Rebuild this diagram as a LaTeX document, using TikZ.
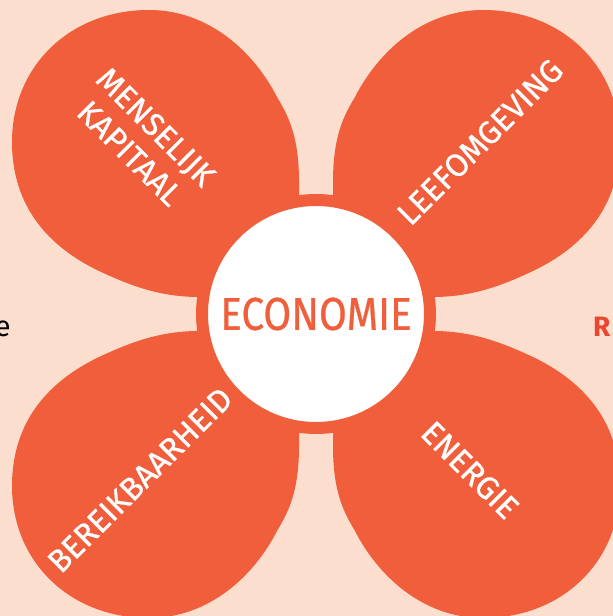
\documentclass[tikz,border=0pt]{standalone}
\usepackage{fontspec}
\usepackage{xcolor}
\usetikzlibrary{positioning}
\newfontfamily\petalfont[FakeBold=0.8]{Fira Sans}
\newfontfamily\ecofont[FakeStretch=0.88, FakeBold=0.6]{Fira Sans}
\newfontfamily\sidefont{Fira Sans}
\definecolor{peach}{RGB}{252,222,207}
\definecolor{petalorange}{RGB}{241,94,59}
\definecolor{sidered}{RGB}{233,72,48}

\begin{document}
\begin{tikzpicture}[x=1pt, y=1pt,
    petal/.style={fill=petalorange, draw=none},
    petaltext/.style={
        text=white,
        font=\petalfont\fontsize{32}{37}\selectfont,
        align=center,
        inner sep=0pt
    },
    hub/.style={
        circle,
        fill=white,
        draw=petalorange,
        line width=12pt,
        minimum size=228pt,
        inner sep=0pt,
        text=petalorange,
        font=\ecofont\fontsize{46}{46}\selectfont
    }]

    % Background
    \fill[peach] (0,0) rectangle (613,616);
    \useasboundingbox (0,0) rectangle (613,616);

    % Centre of the flower
    \coordinate (centre) at (316,302);

    % Four petals
    \foreach \sx/\sy in {1/1, -1/1, 1/-1, -1/-1} {
        \begin{scope}[shift={(centre)}, xscale=\sx, yscale=\sy, shift={(-17,17)}]
            \fill[petal] (0,0) -- (0,115)
                .. controls (0,160) and (-10,180) .. (-22,200)
                .. controls (-45,245) and (-90,287) .. (-150,287)
                .. controls (-230,287) and (-287,230) .. (-287,155)
                .. controls (-287,90) and (-250,50) .. (-200,26)
                .. controls (-170,12) and (-140,0) .. (-100,0) -- cycle;
        \end{scope}
    }

    % Central circle
    \node[hub] (economie) at (centre) {ECONOMIE};

    % Petal labels
    \node[petaltext, rotate=-45] (kapitaal) at (143,476) {MENSELIJK\\KAPITAAL};
    \node[petaltext, rotate=45] (leefomgeving) at (480,474) {LEEFOMGEVING};
    \node[petaltext, rotate=45] (bereikbaarheid) at (140,136) {BEREIKBAARHEID};
    \node[petaltext, rotate=-45] (energie) at (470,146) {ENERGIE};

    % Cut-off side texts
    \node[anchor=base east, inner sep=0pt, font=\sidefont\fontsize{29}{29}\selectfont] (lefttext) at (11,279) {e};
    \node[anchor=base west, inner sep=0pt, text=sidered, font=\sidefont\bfseries\fontsize{28}{28}\selectfont] (righttext) at (593,279) {R};

\end{tikzpicture}
\end{document}
